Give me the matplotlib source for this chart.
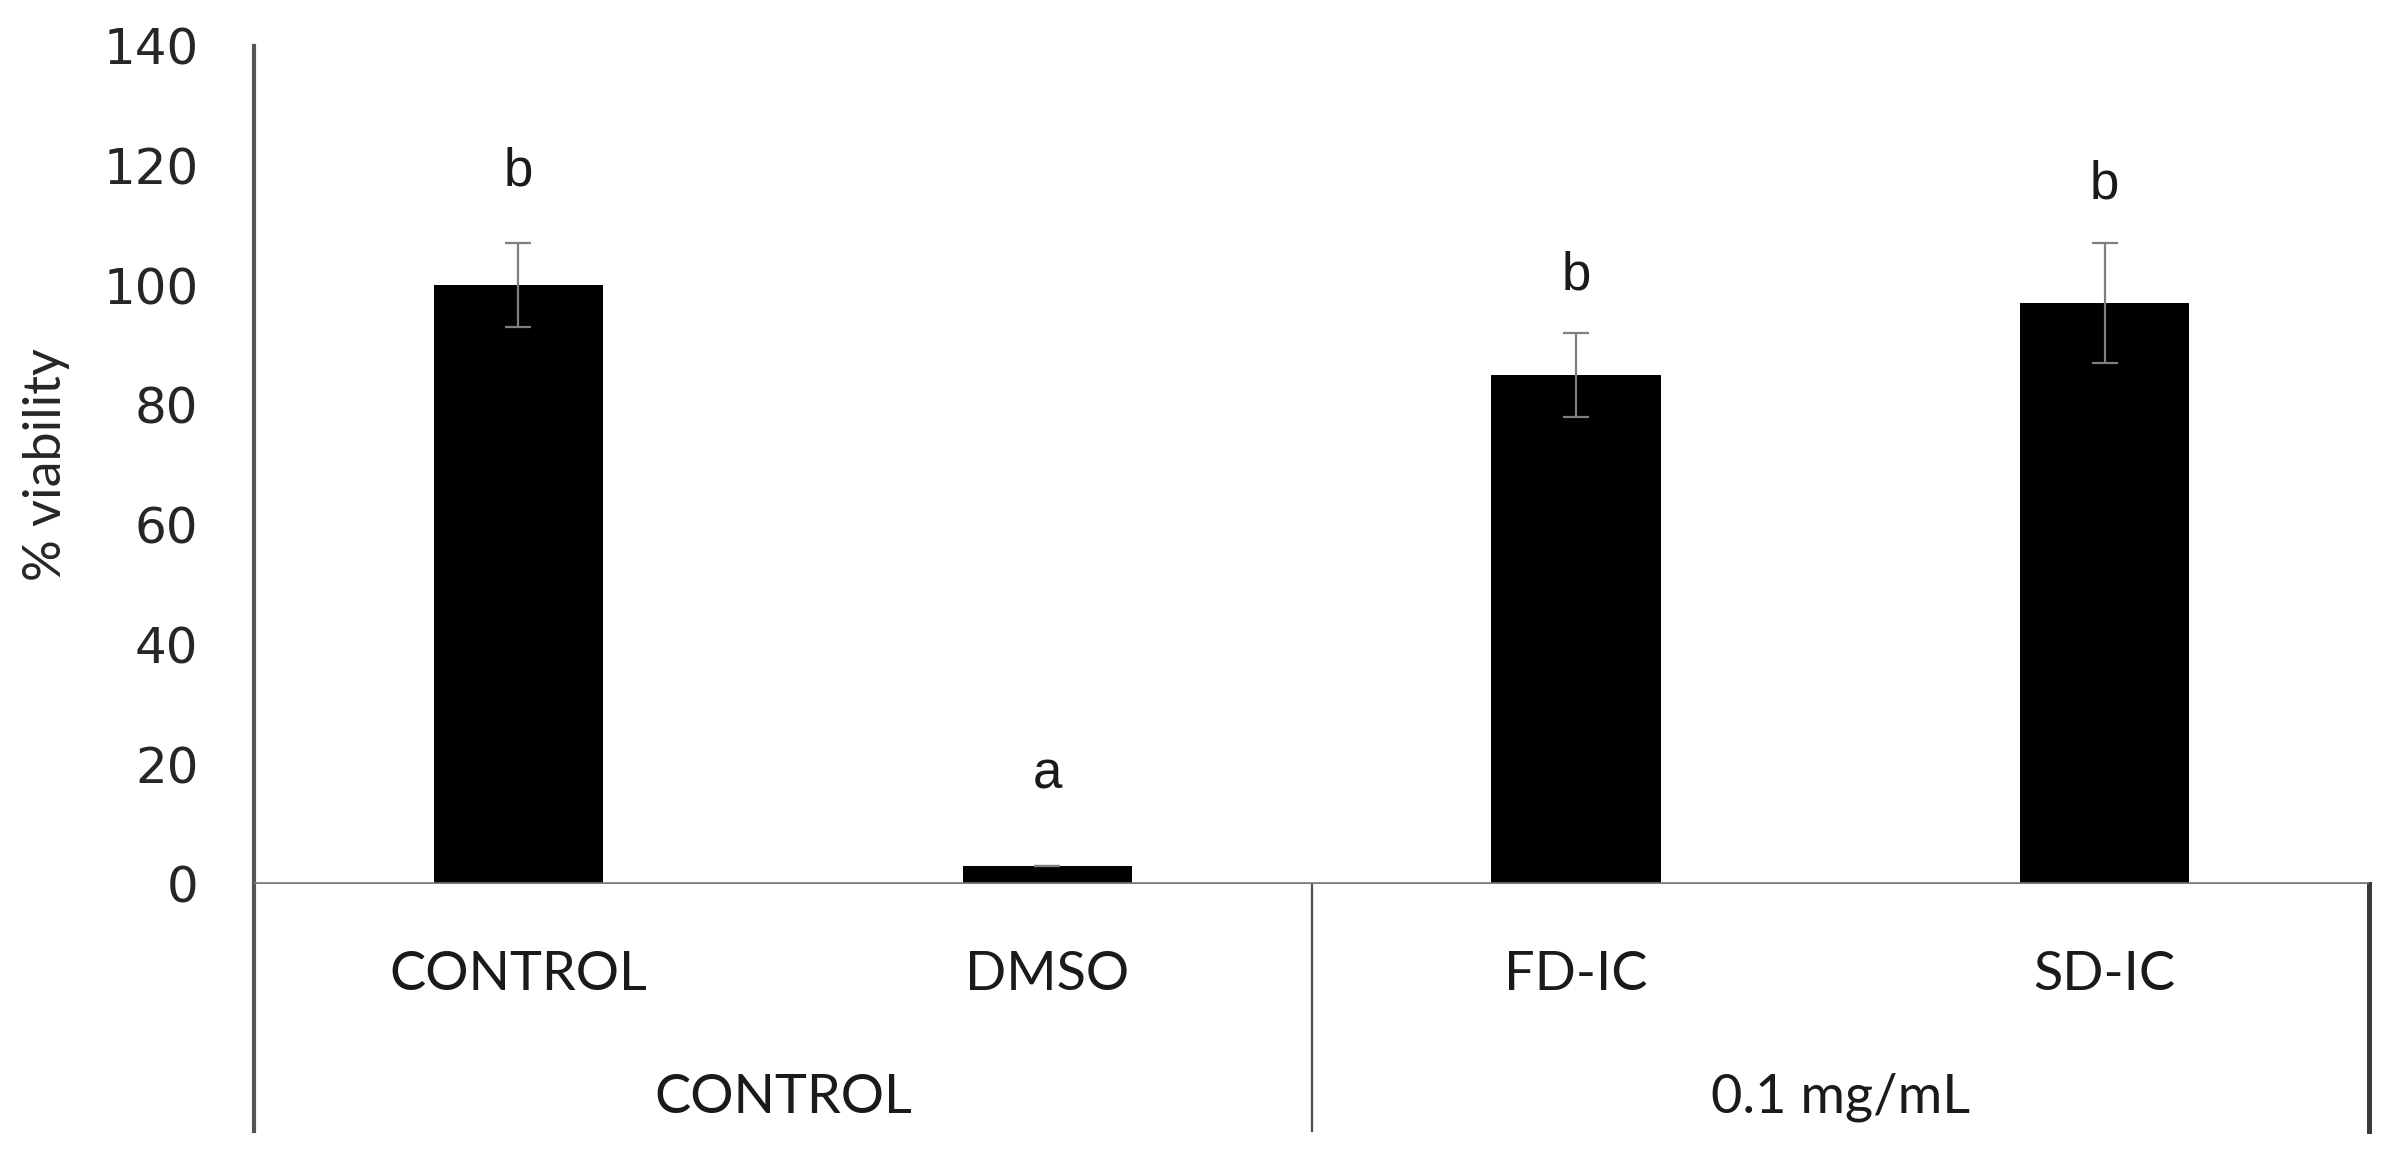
import matplotlib.pyplot as plt
from matplotlib.lines import Line2D

# values
categories = ['CONTROL', 'DMSO', 'FD-IC', 'SD-IC']
viability = [100, 3, 85, 97]
sd = [7, 0, 7, 10]
sig_letters = ['b', 'a', 'b', 'b']
letter_heights = [116.7, 15.9, 99.3, 114.4]
groups = ['CONTROL', '0.1 mg/mL']
group_sizes = [2, 2]
yticks = [0, 20, 40, 60, 80, 100, 120, 140]

fig = plt.figure(figsize=(23.81, 11.61), dpi=100)
ax = fig.add_axes([0.1067, 0.2386, 0.8883, 0.7222])

x = list(range(len(categories)))
ax.bar(x, viability, width=0.32, color='black', zorder=2)
ax.errorbar(x, viability, yerr=sd, fmt='none', ecolor='#7f7f7f',
            elinewidth=1.6, capsize=9.7, capthick=1.6, zorder=3)

for xi, lab, h in zip(x, sig_letters, letter_heights):
    ax.text(xi, h, lab, ha='center', va='baseline', fontsize=38,
            family='Liberation Sans', color='#1a1a1a')

ax.set_xlim(-0.5, len(categories) - 0.5)
ax.set_ylim(0, 140)
ax.set_yticks(yticks)
ax.set_yticklabels([str(v) for v in yticks], fontsize=36,
                   family='DejaVu Sans', color='#262626')
ax.tick_params(axis='y', length=0, pad=40)
ax.set_xticks([])
for s in ax.spines.values():
    s.set_visible(False)

ax.set_ylabel('% viability', fontsize=37.5, family='Lato', color='#262626',
              labelpad=24)

# axis lines drawn by hand (Excel-style multi-level category axis)
bottom = -0.2946
tr = ax.transAxes
ax.add_line(Line2D([0, 0], [1, bottom], transform=tr, color='#555555',
                   lw=3.0, clip_on=False))
ax.axhline(0, color='#7a7a7a', lw=2.6, zorder=4)
ax.add_line(Line2D([1, 1], [0, bottom], transform=tr, color='#3a3a3a',
                   lw=3.6, clip_on=False))

n = len(categories)
for i, cat in enumerate(categories):
    ax.text((i + 0.5) / n, -0.1264, cat, transform=tr, ha='center',
            va='baseline', fontsize=39, family='Lato', color='#1a1a1a')

start = 0
for g, size in zip(groups, group_sizes):
    ax.text((start + size / 2) / n, -0.273, g, transform=tr, ha='center',
            va='baseline', fontsize=39, family='Lato', color='#1a1a1a')
    start += size
    if start < n:
        ax.add_line(Line2D([start / n, start / n], [0, bottom], transform=tr,
                           color='#4d4d4d', lw=1.6, clip_on=False))

fig.savefig('out.png', dpi=100, facecolor='white')
